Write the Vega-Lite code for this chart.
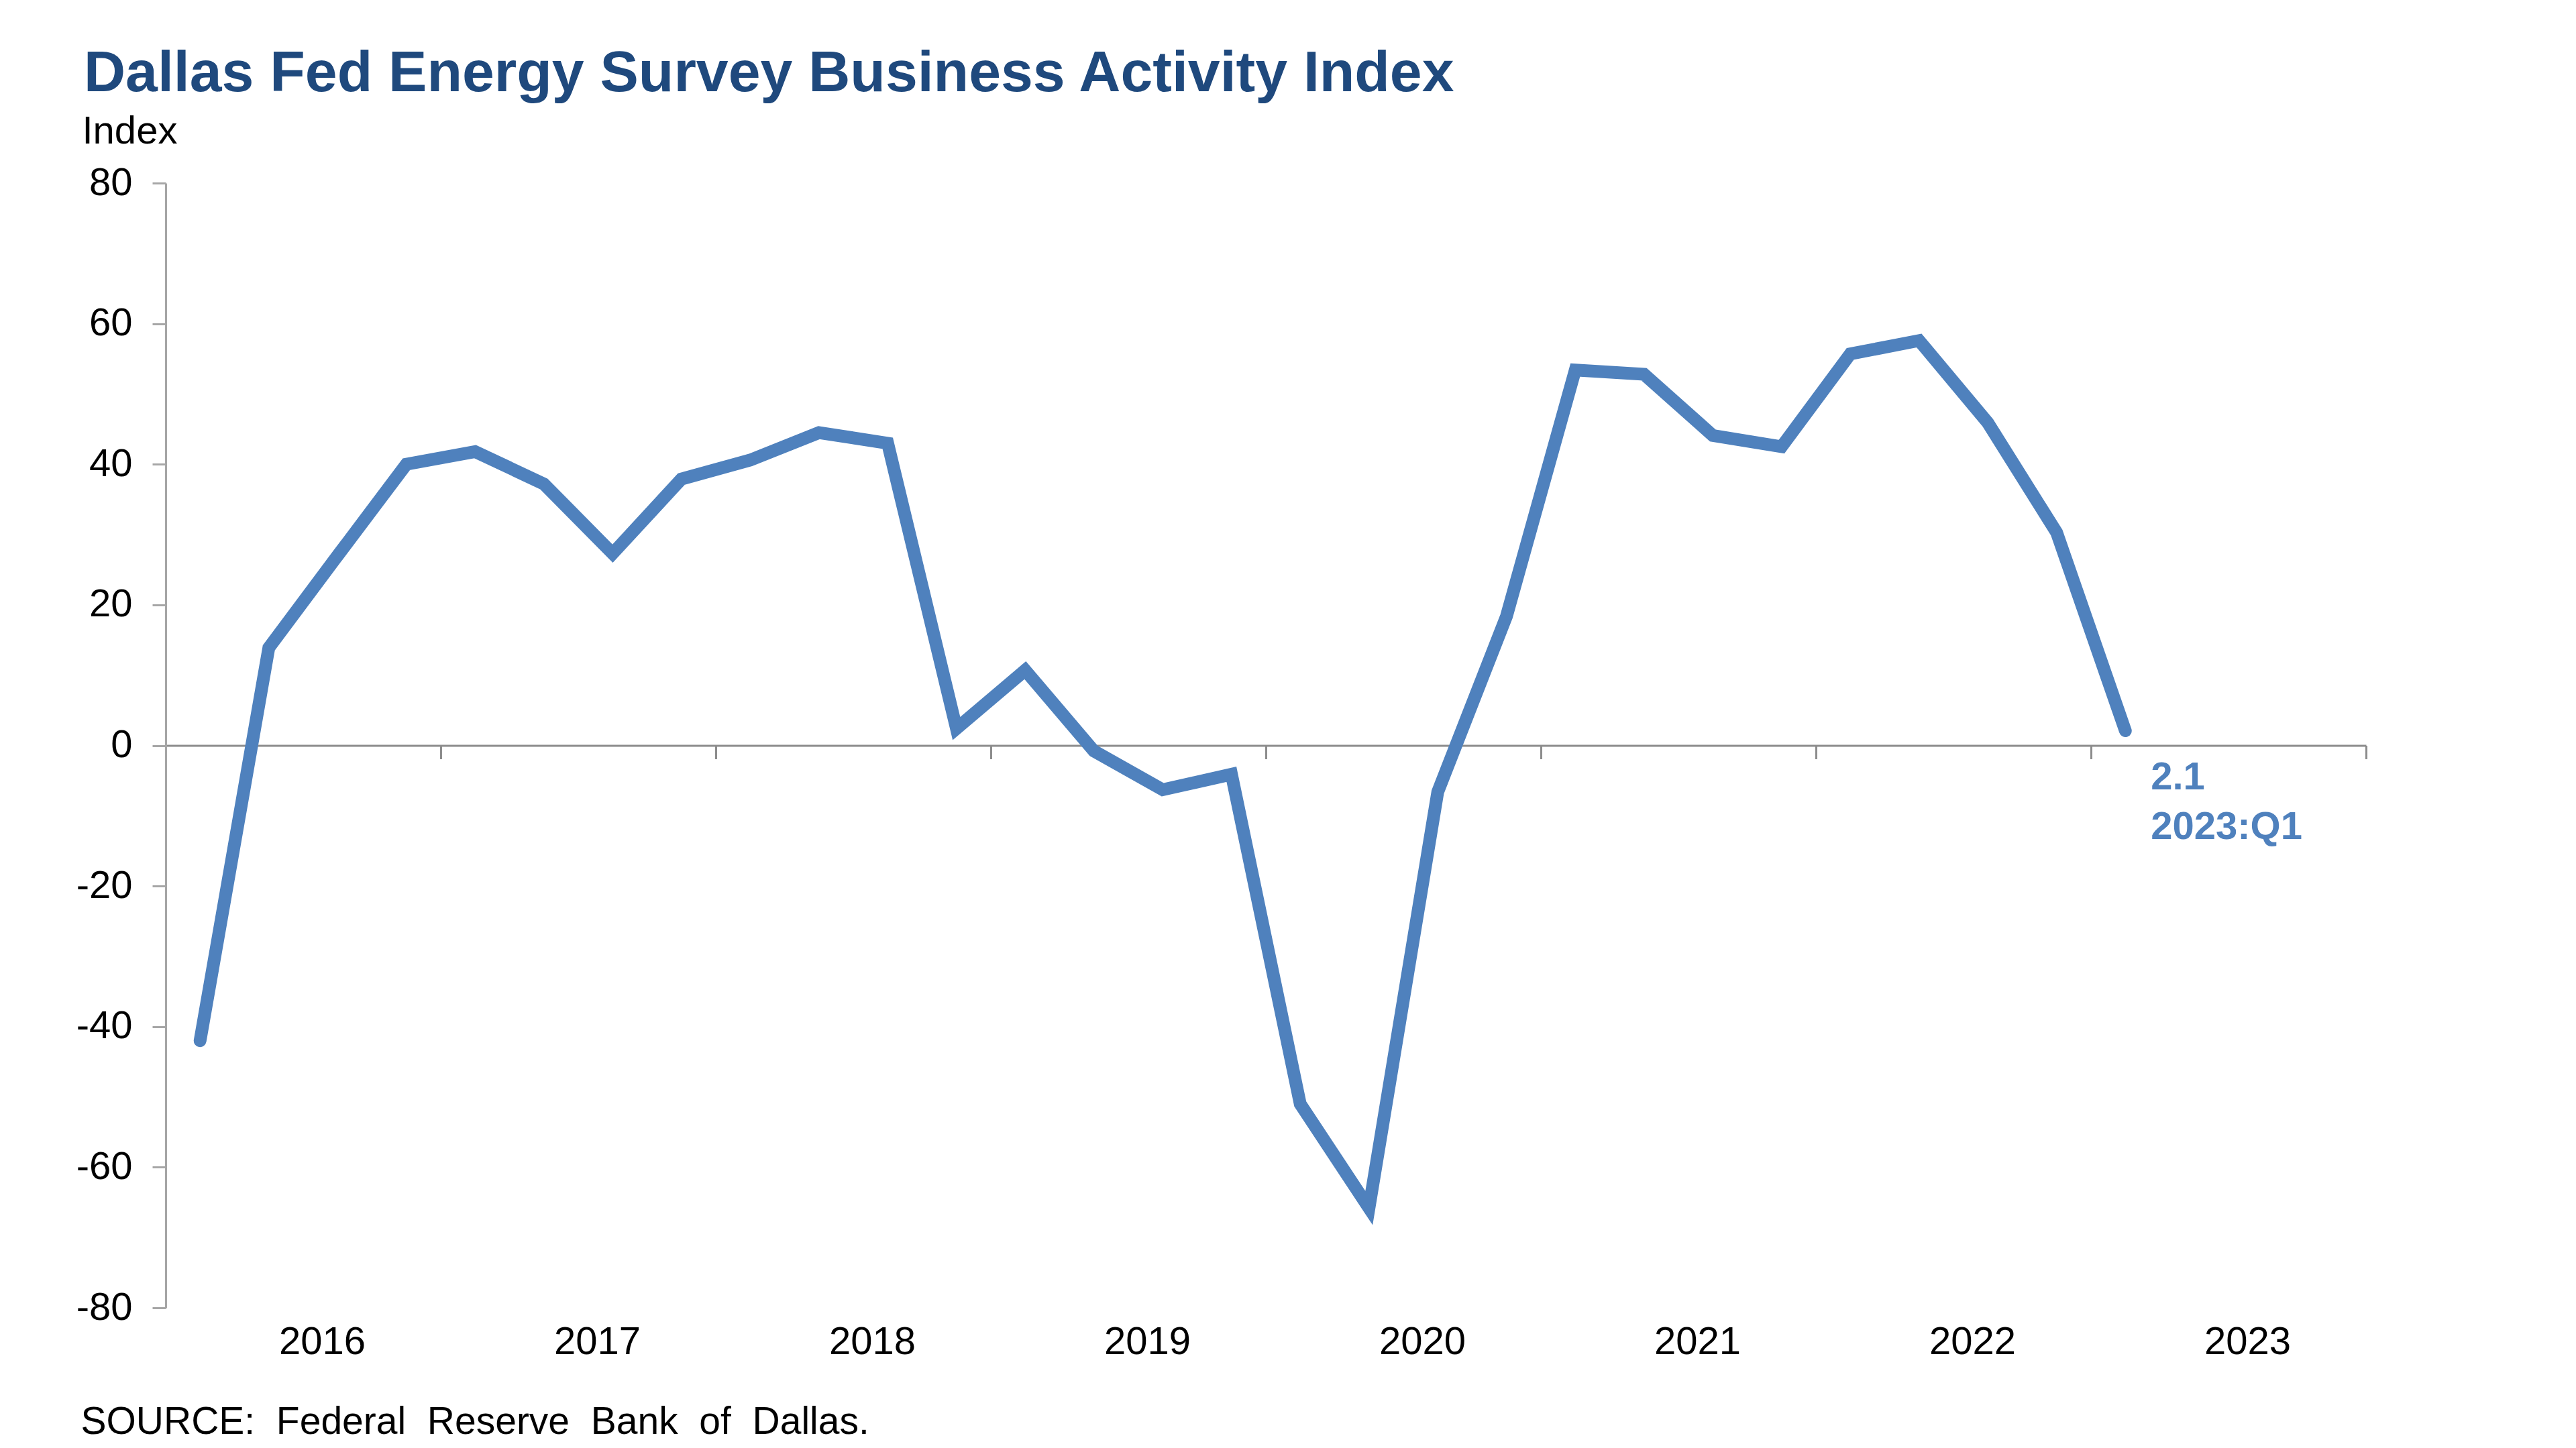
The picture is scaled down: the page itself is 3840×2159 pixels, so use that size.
{
  "$schema": "https://vega.github.io/schema/vega-lite/v6.json",
  "width": 3280,
  "height": 1677,
  "autosize": {"type": "none"},
  "padding": {"left": 247, "top": 273, "right": 313, "bottom": 209},
  "background": "white",
  "config": {"view": {"stroke": null}, "font": "Liberation Sans"},
  "title": {
    "text": "Dallas Fed Energy Survey Business Activity Index",
    "anchor": "start",
    "frame": "group",
    "font": "Liberation Sans",
    "fontSize": 86,
    "fontWeight": "bold",
    "color": "#1F497D",
    "baseline": "alphabetic",
    "dx": -122,
    "dy": 75,
    "offset": 20
  },
  "layer": [
    {
      "data": {
        "values": [
          {"quarter": "2016:Q1", "t": 2016.125, "value": -42.0},
          {"quarter": "2016:Q2", "t": 2016.375, "value": 13.9},
          {"quarter": "2016:Q3", "t": 2016.625, "value": 27.0},
          {"quarter": "2016:Q4", "t": 2016.875, "value": 40.0},
          {"quarter": "2017:Q1", "t": 2017.125, "value": 41.8},
          {"quarter": "2017:Q2", "t": 2017.375, "value": 37.2},
          {"quarter": "2017:Q3", "t": 2017.625, "value": 27.3},
          {"quarter": "2017:Q4", "t": 2017.875, "value": 37.9},
          {"quarter": "2018:Q1", "t": 2018.125, "value": 40.6},
          {"quarter": "2018:Q2", "t": 2018.375, "value": 44.5},
          {"quarter": "2018:Q3", "t": 2018.625, "value": 43.0},
          {"quarter": "2018:Q4", "t": 2018.875, "value": 2.4},
          {"quarter": "2019:Q1", "t": 2019.125, "value": 10.7},
          {"quarter": "2019:Q2", "t": 2019.375, "value": -0.8},
          {"quarter": "2019:Q3", "t": 2019.625, "value": -6.3},
          {"quarter": "2019:Q4", "t": 2019.875, "value": -4.1},
          {"quarter": "2020:Q1", "t": 2020.125, "value": -51.0},
          {"quarter": "2020:Q2", "t": 2020.375, "value": -65.8},
          {"quarter": "2020:Q3", "t": 2020.625, "value": -6.6},
          {"quarter": "2020:Q4", "t": 2020.875, "value": 18.4},
          {"quarter": "2021:Q1", "t": 2021.125, "value": 53.4},
          {"quarter": "2021:Q2", "t": 2021.375, "value": 52.8},
          {"quarter": "2021:Q3", "t": 2021.625, "value": 44.1},
          {"quarter": "2021:Q4", "t": 2021.875, "value": 42.5},
          {"quarter": "2022:Q1", "t": 2022.125, "value": 55.7},
          {"quarter": "2022:Q2", "t": 2022.375, "value": 57.6},
          {"quarter": "2022:Q3", "t": 2022.625, "value": 45.9},
          {"quarter": "2022:Q4", "t": 2022.875, "value": 30.3},
          {"quarter": "2023:Q1", "t": 2023.125, "value": 2.1}
        ]
      },
      "mark": {"type": "line", "color": "#4F81BD", "strokeWidth": 19, "strokeCap": "round", "strokeJoin": "miter"},
      "encoding": {
        "x": {
          "field": "t",
          "type": "quantitative",
          "scale": {"domain": [2016, 2024], "nice": false, "zero": false},
          "axis": {
            "values": [2016, 2017, 2018, 2019, 2020, 2021, 2022, 2023, 2024],
            "format": "d",
            "labelExpr": "datum.value == 2024 ? '' : datum.label",
            "offset": -838.5,
            "grid": false,
            "domainColor": "#8C8C8C",
            "domainWidth": 3,
            "tickColor": "#8C8C8C",
            "tickWidth": 3,
            "tickSize": 20,
            "labelFont": "Liberation Sans",
            "labelFontSize": 58,
            "labelColor": "#000000",
            "labelPadding": 841,
            "labelOffset": 233,
            "labelFlush": false,
            "labelOverlap": false,
            "title": "SOURCE:\u00a0 Federal\u00a0 Reserve\u00a0 Bank\u00a0 of\u00a0 Dallas.",
            "titleFont": "Liberation Sans",
            "titleFontSize": 57,
            "titleFontWeight": "normal",
            "titleColor": "#000000",
            "titleAlign": "left",
            "titleAnchor": "start",
            "titleBaseline": "alphabetic",
            "titleX": -127,
            "titleY": 1026
          }
        },
        "y": {
          "field": "value",
          "type": "quantitative",
          "scale": {"domain": [-80, 80], "nice": false},
          "axis": {
            "values": [-80, -60, -40, -20, 0, 20, 40, 60, 80],
            "labelExpr": "'' + datum.value",
            "grid": false,
            "domainColor": "#A6A6A6",
            "domainWidth": 3,
            "tickColor": "#A6A6A6",
            "tickWidth": 3,
            "tickSize": 20,
            "labelFont": "Liberation Sans",
            "labelFontSize": 58,
            "labelColor": "#000000",
            "labelPadding": 30,
            "title": "Index",
            "titleFont": "Liberation Sans",
            "titleFontSize": 58,
            "titleFontWeight": "normal",
            "titleColor": "#000000",
            "titleAngle": 0,
            "titleAlign": "left",
            "titleBaseline": "alphabetic",
            "titleX": -125,
            "titleY": -60
          }
        }
      }
    },
    {
      "data": {"values": [{"t": 2023.125, "value": 2.1, "label": "2.1\n2023:Q1"}]},
      "mark": {"type": "text", "align": "left", "baseline": "alphabetic", "dx": 38, "dy": 88, "lineBreak": "\n", "lineHeight": 74, "font": "Liberation Sans", "fontSize": 58, "fontWeight": "bold", "color": "#4F81BD"},
      "encoding": {
        "x": {"field": "t", "type": "quantitative"},
        "y": {"field": "value", "type": "quantitative"},
        "text": {"field": "label"}
      }
    }
  ]
}
